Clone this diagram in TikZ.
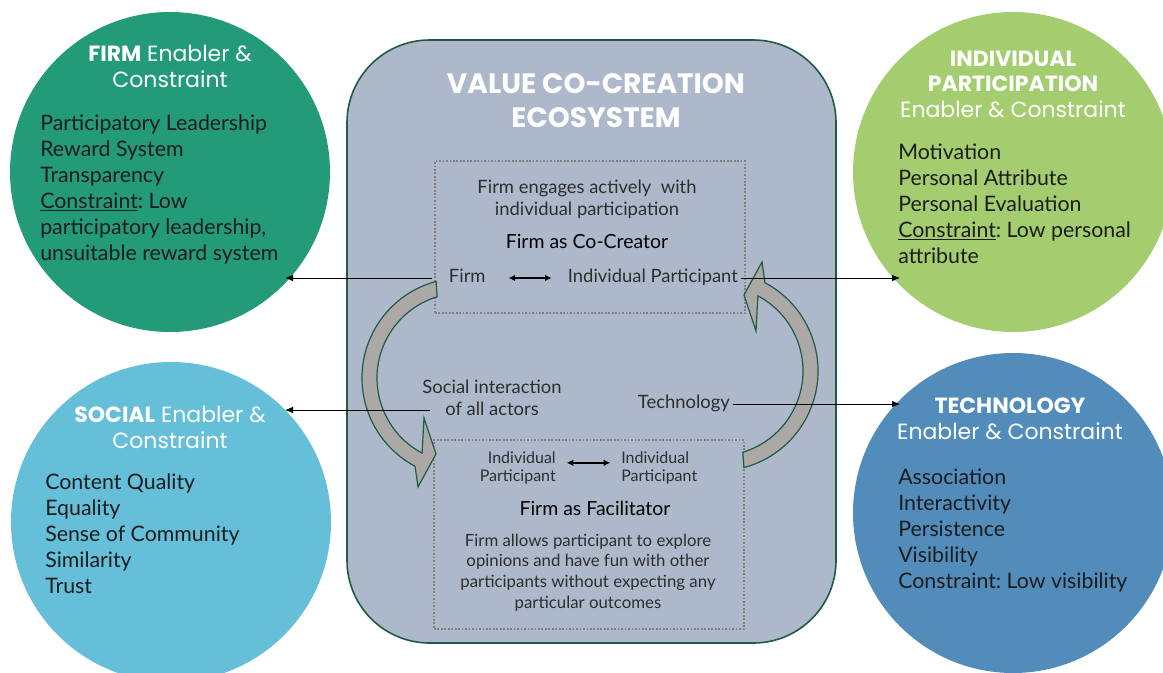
\documentclass[tikz,border=0pt]{standalone}
\usepackage{fontspec}
\setmainfont{Lato}
\newfontfamily\poppins{Poppins}
\usetikzlibrary{arrows.meta}
\frenchspacing

\definecolor{firmgreen}{RGB}{35,155,120}
\definecolor{indivgreen}{RGB}{164,205,111}
\definecolor{socialblue}{RGB}{102,191,217}
\definecolor{techblue}{RGB}{82,140,187}
\definecolor{ecofill}{RGB}{173,185,203}
\definecolor{ecoline}{RGB}{30,90,70}
\definecolor{loopgray}{RGB}{171,168,165}
\definecolor{ink}{RGB}{28,28,28}
\definecolor{darkink}{RGB}{45,45,45}

\tikzset{
  blob/.style={circle, minimum size=240pt, inner sep=0pt},
  head/.style={font=\poppins\fontsize{16.5}{19.1}\selectfont, text=white, align=center, anchor=base, inner sep=0pt},
  list/.style={font=\fontsize{16}{19.5}\selectfont, text=ink, align=left, anchor=base west, inner sep=0pt},
  dotbox/.style={draw=black!50, dash pattern=on 1.3pt off 1.3pt, line width=1.4pt, minimum width=232.5pt},
  note/.style={font=\fontsize{13.8}{16.5}\selectfont, text=darkink, align=center, anchor=base, inner sep=0pt},
  lbl/.style={font=\fontsize{13.8}{16.5}\selectfont, text=darkink, inner sep=2pt, text height=1.5ex, text depth=.25ex},
  loopar/.style={fill=loopgray, draw=ecoline, line width=0.9pt},
  link/.style={-{Latex[length=6pt,width=5pt]}, line width=0.7pt},
  twoway/.style={{Latex[length=5pt,width=5pt]}-{Latex[length=5pt,width=5pt]}, line width=1.1pt},
}

\begin{document}
\begin{tikzpicture}[x=0.75pt,y=-0.75pt]
\useasboundingbox (0,0) rectangle (1163,672);
\clip (0,0) rectangle (1163,672);

% the four enabler circles (text nodes sit on their last baseline)
\node[blob, fill=firmgreen] (firm) at (170,172) {};
\node[blob, fill=indivgreen] (indiv) at (1013,172) {};
\node[blob, fill=socialblue] (social) at (171,522) {};
\node[blob, fill=techblue] (tech) at (1013,513) {};

\node[head] (firmHead) at (170,87) {\textbf{FIRM} Enabler \&\\Constraint};
\node[list] (firmList) at (40,260) {Participatory Leadership\\Reward System\\Transparency\\\underline{Constraint}: Low\\participatory leadership,\\unsuitable reward system};

\node[head] (indivHead) at (1013,117) {\textbf{INDIVIDUAL}\\\textbf{PARTICIPATION}\\Enabler \& Constraint};
\node[list] (indivList) at (898,263) {Motivation\\Personal Attribute\\Personal Evaluation\\\underline{Constraint}: Low personal\\attribute};

\node[head] (socialHead) at (170,448) {\textbf{SOCIAL} Enabler \&\\Constraint};
\node[list] (socialList) at (45,593) {Content Quality\\Equality\\Sense of Community\\Similarity\\Trust};

\node[head] (techHead) at (1010,439) {\textbf{TECHNOLOGY}\\Enabler \& Constraint};
\node[list] (techList) at (898,588) {Association\\Interactivity\\Persistence\\Visibility\\Constraint: Low visibility};

% ecosystem panel
\node[draw=ecoline, fill=ecofill, line width=1.2pt, rounded corners=62pt, minimum width=366.75pt, minimum height=452.25pt] (eco) at (591.5,341.5) {};
\node[font=\poppins\bfseries\fontsize{21}{25.5}\selectfont, text=white, align=center, anchor=base] (ecoTitle) at (596,127) {VALUE CO-CREATION\\ECOSYSTEM};

\node[dotbox, minimum height=114pt] (coBox) at (590,237) {};
\node[dotbox, minimum height=141.75pt] (faBox) at (589,534.5) {};

% the two turning arrows
\foreach \r in {0,180}
  \draw[loopar, rotate around={\r:(590,374.5)}] (436.1,281.4) arc[start angle=-105, end angle=-242, radius=100] -- (418,487) -- (436,454) -- (424,418) -- (422.1,453.1) arc[start angle=-242, end angle=-107, radius=85] -- cycle;

% firm as co-creator
\node[note] (coNote) at (587,215) {Firm engages actively\ \ with\\individual participation};
\node[note, text=black, font=\fontsize{14.6}{16.5}\selectfont] (coRole) at (587,248) {Firm as Co-Creator};
\node[lbl, anchor=west] (lblFirm) at (446,278) {Firm};
\node[lbl, anchor=west] (lblIndiv) at (565,278) {Individual Participant};
\draw[twoway, shorten <=15pt, shorten >=10pt] (lblFirm.east) -- (lblIndiv.west);

% firm as facilitator
\node[note, font=\fontsize{12}{13.5}\selectfont, align=right, anchor=base east] (lblPartA) at (556,481) {Individual\\Participant};
\node[note, font=\fontsize{12}{13.5}\selectfont, align=left, anchor=base west] (lblPartB) at (621,481) {Individual\\Participant};
\draw[twoway, shorten <=8pt, shorten >=8pt] ([yshift=3.5pt]lblPartA.east) -- ([yshift=3.5pt]lblPartB.west);
\node[note, text=black, font=\fontsize{14.6}{16.5}\selectfont] (faRole) at (595,515) {Firm as Facilitator};
\node[note, font=\fontsize{12.6}{15.4}\selectfont] (faNote) at (588,608) {Firm allows participant to explore\\opinions and have fun with other\\participants without expecting any\\particular outcomes};

\node[note] (lblSocial) at (492,415) {Social interaction\\of all actors};
\node[lbl, anchor=west] (lblTech) at (635,404) {Technology};

% links out to the circles
\coordinate (firmTip) at (285,277);
\coordinate (indivTip) at (900,277);
\coordinate (socialTip) at (285,410);
\coordinate (techTip) at (900,402);
\draw[link] (lblFirm.west) ++(-14,0) -- (lblFirm.west -| firmTip);
\draw[link] (lblIndiv.east) -- (lblIndiv.east -| indivTip);
\draw[link] (lblSocial.west |- socialTip) ++(8,0) -- (socialTip);
\draw[link] (lblTech.east) -- (lblTech.east -| techTip);
\end{tikzpicture}
\end{document}
